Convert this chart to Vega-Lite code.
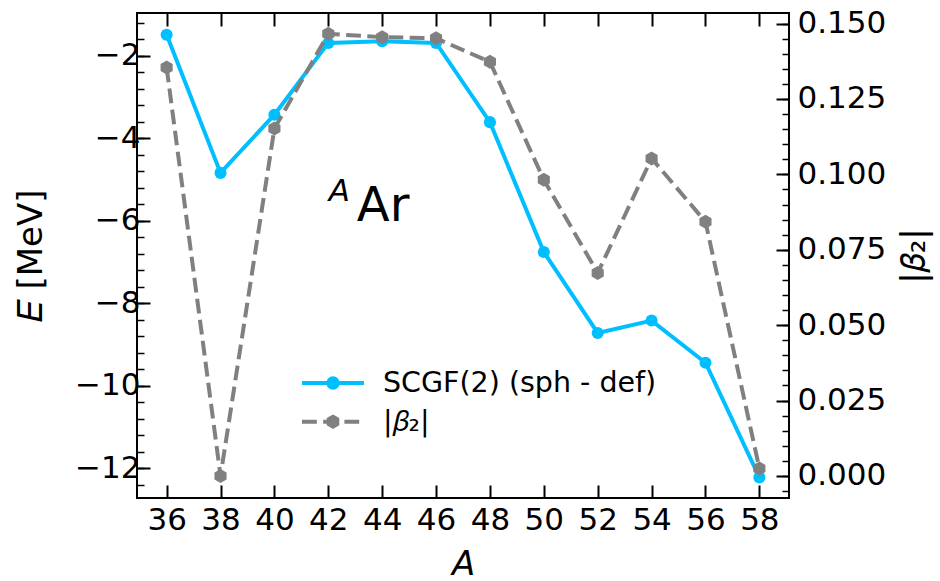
{
  "$schema": "https://vega.github.io/schema/vega-lite/v6.json",
  "width": 652,
  "height": 485,
  "autosize": {"type": "none"},
  "padding": {"left": 137, "top": 13, "right": 151, "bottom": 83},
  "background": "white",
  "datasets": {
    "argon": [
      {"A": 36, "E": -1.49, "beta": 0.1354},
      {"A": 38, "E": -4.84, "beta": 0.0},
      {"A": 40, "E": -3.43, "beta": 0.1152},
      {"A": 42, "E": -1.69, "beta": 0.1466},
      {"A": 44, "E": -1.65, "beta": 0.1455},
      {"A": 46, "E": -1.69, "beta": 0.1451},
      {"A": 48, "E": -3.61, "beta": 0.1373},
      {"A": 50, "E": -6.76, "beta": 0.0982},
      {"A": 52, "E": -8.72, "beta": 0.0673},
      {"A": 54, "E": -8.42, "beta": 0.1053},
      {"A": 56, "E": -9.44, "beta": 0.0843},
      {"A": 58, "E": -12.22, "beta": 0.0025}
    ],
    "sup": [{"label": "A"}],
    "elem": [{"label": "Ar"}]
  },
  "data": {"name": "argon"},
  "config": {
    "font": "DejaVu Sans",
    "view": {"stroke": "black", "strokeWidth": 2},
    "axis": {
      "grid": false,
      "domain": false,
      "labelFont": "DejaVu Sans",
      "titleFont": "DejaVu Sans",
      "labelFontSize": 31,
      "titleFontSize": 34,
      "titleFontWeight": "normal",
      "labelColor": "black",
      "titleColor": "black",
      "tickColor": "black",
      "tickWidth": 2,
      "labelFlush": false,
      "labelOverlap": false
    }
  },
  "layer": [
    {
      "mark": {"type": "line", "strokeWidth": 4},
      "encoding": {
        "x": {
          "field": "A", "type": "quantitative",
          "scale": {"domain": [34.9, 59.1], "nice": false, "zero": false},
          "axis": {"orient": "bottom", "values": [36, 38, 40, 42, 44, 46, 48, 50, 52, 54, 56, 58], "title": "A", "titleFontStyle": "italic", "tickSize": -13, "labelPadding": 20, "titlePadding": 12}
        },
        "y": {
          "field": "E", "type": "quantitative",
          "scale": {"domain": [-12.72, -0.965], "nice": false, "zero": false},
          "axis": {"orient": "left", "values": [-12, -10, -8, -6, -4, -2], "title": "𝐸 [MeV]", "tickSize": -13, "labelPadding": 10, "titlePadding": 26}
        },
        "color": {
          "datum": "SCGF(2) (sph - def)",
          "scale": {"domain": ["SCGF(2) (sph - def)", "|𝛽₂|"], "range": ["#00bfff", "#808080"]},
          "legend": {
            "orient": "none", "legendX": 163, "legendY": 355, "title": null, "padding": 0,
            "symbolSize": 3844, "clipHeight": 30, "labelOffset": 17, "rowPadding": 8.7,
            "labelFontSize": 28.5, "labelFont": "DejaVu Sans", "labelColor": "black", "labelLimit": 600,
            "symbolStrokeWidth": 4,
            "encoding": {
              "symbols": {
                "shape": {"value": {"expr": "datum.value === 'SCGF(2) (sph - def)' ? 'M-1,0H1M0.15,0A0.15,0.15,0,1,1,-0.15,0A0.15,0.15,0,1,1,0.15,0Z' : 'M-1,0H-0.523M-0.316,0H0.161M0.368,0H0.845M0,-0.16L0.1386,-0.08L0.1386,0.08L0,0.16L-0.1386,0.08L-0.1386,-0.08Z'"}},
                "fill": {"value": {"expr": "datum.value === 'SCGF(2) (sph - def)' ? '#00bfff' : '#808080'"}},
                "stroke": {"value": {"expr": "datum.value === 'SCGF(2) (sph - def)' ? '#00bfff' : '#808080'"}},
                "strokeWidth": {"value": 4},
                "opacity": {"value": 1}
              }
            }
          }
        }
      }
    },
    {
      "mark": {"type": "point", "filled": true, "shape": "circle", "size": 145, "color": "#00bfff", "opacity": 1},
      "encoding": {
        "x": {"field": "A", "type": "quantitative", "scale": {"domain": [34.9, 59.1], "nice": false, "zero": false}, "axis": null},
        "y": {
          "field": "E", "type": "quantitative",
          "scale": {"domain": [-12.72, -0.965], "nice": false, "zero": false},
          "axis": {"orient": "left", "values": [-12.4, -12, -11.6, -11.2, -10.8, -10.4, -10, -9.6, -9.2, -8.8, -8.4, -8, -7.6, -7.2, -6.8, -6.4, -6, -5.6, -5.2, -4.8, -4.4, -4, -3.6, -3.2, -2.8, -2.4, -2, -1.6, -1.2], "labels": false, "title": null, "tickSize": -7, "tickWidth": 1.5}
        }
      }
    },
    {
      "mark": {"type": "line", "strokeWidth": 4, "strokeDash": [14.8, 6.4]},
      "encoding": {
        "x": {
          "field": "A", "type": "quantitative",
          "scale": {"domain": [34.9, 59.1], "nice": false, "zero": false},
          "axis": {"orient": "top", "values": [36, 38, 40, 42, 44, 46, 48, 50, 52, 54, 56, 58], "labels": false, "title": null, "tickSize": -13}
        },
        "y": {
          "field": "beta", "type": "quantitative",
          "scale": {"domain": [-0.0073, 0.1535], "nice": false, "zero": false},
          "axis": {"orient": "right", "values": [0, 0.025, 0.05, 0.075, 0.1, 0.125, 0.15], "format": ".3f", "title": "|𝛽₂|", "titleAngle": 270, "titleBaseline": "top", "tickSize": -13, "labelPadding": 21, "titlePadding": 12}
        },
        "color": {"datum": "|𝛽₂|"}
      }
    },
    {
      "mark": {"type": "point", "filled": true, "shape": "M0,-1L0.866,-0.5L0.866,0.5L0,1L-0.866,0.5L-0.866,-0.5Z", "size": 196, "color": "#808080", "opacity": 1},
      "encoding": {
        "x": {"field": "A", "type": "quantitative", "scale": {"domain": [34.9, 59.1], "nice": false, "zero": false}, "axis": null},
        "y": {
          "field": "beta", "type": "quantitative",
          "scale": {"domain": [-0.0073, 0.1535], "nice": false, "zero": false},
          "axis": {"orient": "right", "values": [-0.005, 0, 0.005, 0.01, 0.015, 0.02, 0.025, 0.03, 0.035, 0.04, 0.045, 0.05, 0.055, 0.06, 0.065, 0.07, 0.075, 0.08, 0.085, 0.09, 0.095, 0.1, 0.105, 0.11, 0.115, 0.12, 0.125, 0.13, 0.135, 0.14, 0.145, 0.15], "labels": false, "title": null, "tickSize": -7, "tickWidth": 1.5}
        }
      }
    },
    {
      "data": {"name": "sup"},
      "mark": {"type": "text", "fontSize": 31, "fontStyle": "italic", "align": "left", "baseline": "alphabetic", "color": "black"},
      "encoding": {
        "x": {"datum": 42.02, "type": "quantitative", "scale": {"domain": [34.9, 59.1], "nice": false, "zero": false}, "axis": null},
        "y": {"datum": -5.53, "type": "quantitative", "scale": {"domain": [-12.72, -0.965], "nice": false, "zero": false}, "axis": null},
        "text": {"field": "label"}
      }
    },
    {
      "data": {"name": "elem"},
      "mark": {"type": "text", "fontSize": 48, "align": "left", "baseline": "alphabetic", "color": "black"},
      "encoding": {
        "x": {"datum": 43.06, "type": "quantitative", "scale": {"domain": [34.9, 59.1], "nice": false, "zero": false}, "axis": null},
        "y": {"datum": -6.017, "type": "quantitative", "scale": {"domain": [-12.72, -0.965], "nice": false, "zero": false}, "axis": null},
        "text": {"field": "label"}
      }
    }
  ],
  "resolve": {"scale": {"y": "independent"}, "axis": {"x": "independent", "y": "independent"}}
}
